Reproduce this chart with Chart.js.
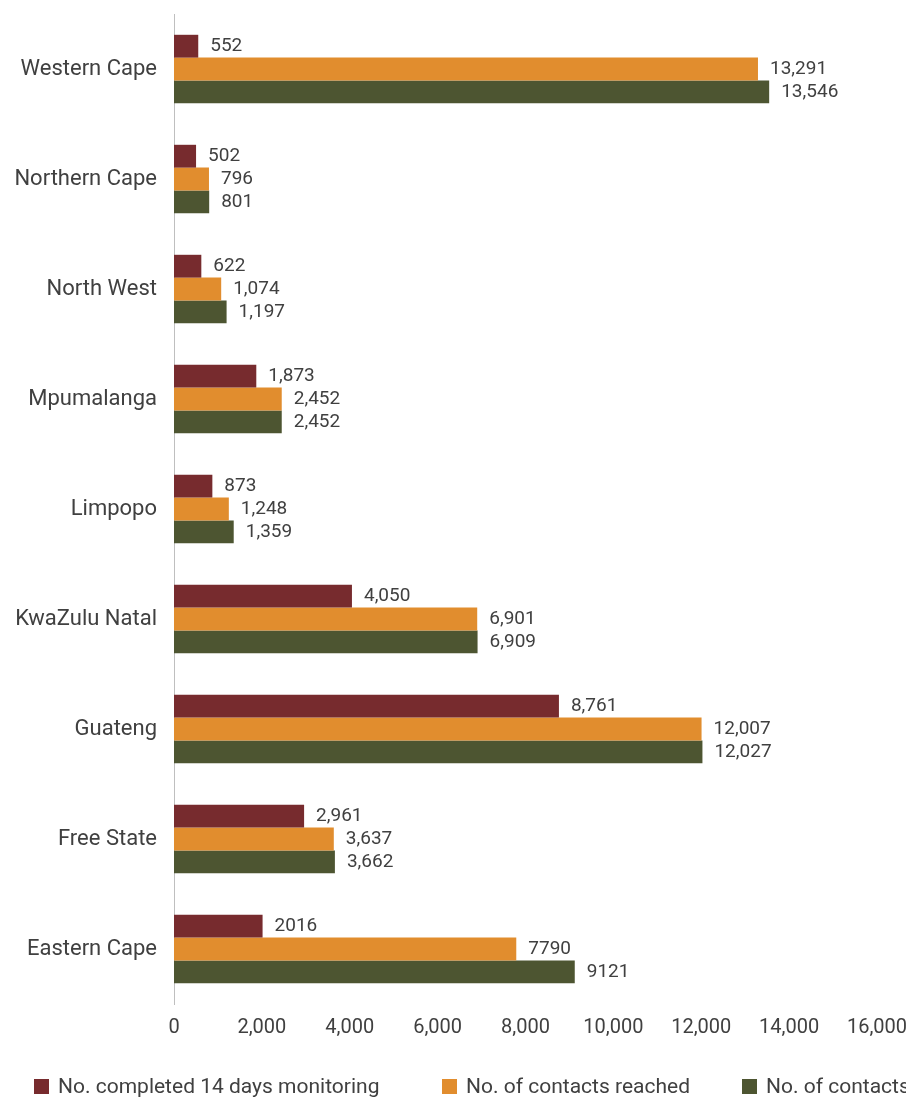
<!DOCTYPE html>
<html>
<head>
<meta charset="utf-8">
<script src="https://cdn.jsdelivr.net/npm/chart.js@4"></script>
<style>
  html, body { margin: 0; padding: 0; background: #fff; }
  #frame { position: relative; width: 906px; height: 1097px; overflow: hidden; }
  #wrap { position: absolute; left: 0; top: 0; width: 906px; height: 1097px; }
  #legend { position: absolute; left: 0; top: 1075px; width: 1200px; height: 22px;
            font-family: Roboto, 'Liberation Sans', sans-serif; font-size: 21px; color: #404040; }
  #legend .item { position: absolute; top: 0; white-space: nowrap; line-height: 22px; }
  #legend .item:nth-child(1) { left: 34px; }
  #legend .item:nth-child(2) { left: 442px; }
  #legend .item:nth-child(3) { left: 742px; }
  #legend .box { display: inline-block; width: 15px; height: 15px; margin-right: 9px; vertical-align: -1px; }
</style>
</head>
<body>
<div id="frame">
  <div id="wrap"><canvas id="bar-chart"></canvas></div>
  <div id="legend"></div>
</div>
<script>
const provinces = ["Western Cape", "Northern Cape", "North West", "Mpumalanga", "Limpopo",
                   "KwaZulu Natal", "Guateng", "Free State", "Eastern Cape"];

const completed = [552, 502, 622, 1873, 873, 4050, 8761, 2961, 2016];
const reached   = [13291, 796, 1074, 2452, 1248, 6901, 12007, 3637, 7790];
const contacts  = [13546, 801, 1197, 2452, 1359, 6909, 12027, 3662, 9121];

// labels as printed on the chart (some have commas, some don't)
const completedText = ["552", "502", "622", "1,873", "873", "4,050", "8,761", "2,961", "2016"];
const reachedText   = ["13,291", "796", "1,074", "2,452", "1,248", "6,901", "12,007", "3,637", "7790"];
const contactsText  = ["13,546", "801", "1,197", "2,452", "1,359", "6,909", "12,027", "3,662", "9121"];

const seriesNames = ["No. completed 14 days monitoring", "No. of contacts reached", "No. of contacts identified"];
const seriesColors = ['#772B2E', '#E18D2E', '#4D5531'];

const textColor = "#404040";
const fontFamily = "Roboto, 'Liberation Sans', sans-serif";

const valueLabels = {
    id: "valueLabels",
    afterDatasetsDraw(chart) {
        const ctx = chart.ctx;
        const texts = [completedText, reachedText, contactsText];
        ctx.save();
        ctx.font = "19px " + fontFamily;
        ctx.fillStyle = textColor;
        ctx.textAlign = "left";
        ctx.textBaseline = "middle";
        chart.data.datasets.forEach(function (ds, i) {
            const meta = chart.getDatasetMeta(i);
            meta.data.forEach(function (bar, j) {
                ctx.fillText(texts[i][j], bar.x + 12, bar.y);
            });
        });
        ctx.restore();
    }
};

const chart = new Chart(document.getElementById("bar-chart"), {
    type: 'bar',
    data: {
        labels: provinces,
        datasets: [
            { label: seriesNames[0], data: completed, backgroundColor: seriesColors[0] },
            { label: seriesNames[1], data: reached, backgroundColor: seriesColors[1] },
            { label: seriesNames[2], data: contacts, backgroundColor: seriesColors[2] }
        ]
    },
    options: {
        indexAxis: 'y',
        responsive: true,
        maintainAspectRatio: false,
        animation: false,
        layout: { padding: { left: 0, right: 29, top: 14, bottom: 45 } },
        datasets: { bar: { categoryPercentage: 0.622, barPercentage: 1.0 } },
        scales: {
            x: {
                min: 0,
                max: 16000,
                grid: { display: false, drawTicks: false },
                border: { display: false },
                ticks: {
                    stepSize: 2000,
                    padding: 12,
                    color: textColor,
                    font: { family: fontFamily, size: 20 },
                    maxRotation: 0,
                    autoSkip: false,
                    callback: function (v) { return v.toLocaleString('en-US'); }
                },
                afterFit: function (s) { s.paddingLeft = 0; s.paddingRight = 0; }
            },
            y: {
                grid: { display: false, drawTicks: false },
                border: { display: true, color: '#BFBFBF', width: 1 },
                ticks: {
                    padding: 17,
                    color: textColor,
                    font: { family: fontFamily, size: 22 }
                },
                afterFit: function (s) { s.width = 174; s.paddingTop = 0; s.paddingBottom = 0; }
            }
        },
        plugins: {
            legend: { display: false },
            tooltip: { enabled: false }
        }
    },
    plugins: [valueLabels]
});

// legend as html below the chart, built from the datasets
const legendEl = document.getElementById("legend");
chart.data.datasets.forEach(function (ds) {
    const item = document.createElement("span");
    item.className = "item";
    const box = document.createElement("span");
    box.className = "box";
    box.style.background = ds.backgroundColor;
    item.appendChild(box);
    item.appendChild(document.createTextNode(ds.label));
    legendEl.appendChild(item);
});
</script>
</body>
</html>
